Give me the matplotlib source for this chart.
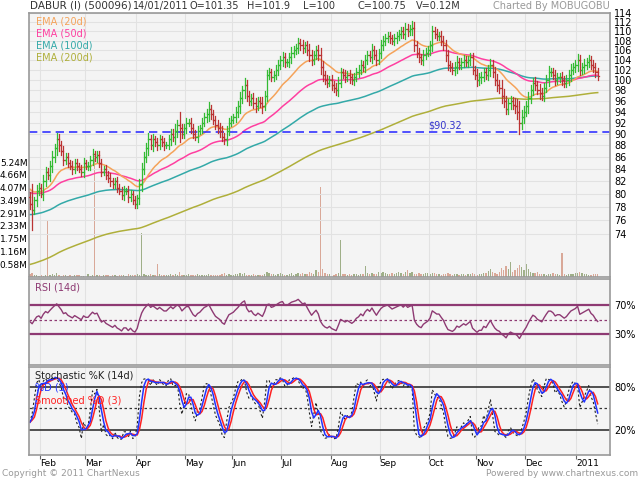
import numpy as np
import pandas as pd
import matplotlib
matplotlib.use("Agg")
import matplotlib.pyplot as plt
from matplotlib.ticker import FixedLocator, NullLocator, NullFormatter

# ---------------- data ----------------
start_date = "2010-01-25"
end_date = "2011-01-14"

closes = [
 78.5, 77.5, 79, 80.5, 81, 80, 82, 83.5, 83, 84.5,
 86, 87.5, 89, 88, 87, 85.5, 86, 85, 84.5, 84,
 85, 84.5, 84, 83.5, 85, 84.5, 84.5, 85.5, 86.5, 86,
 86.3, 85, 83.5, 84, 83, 82.5, 82, 81.5, 82, 81,
 80.5, 79.8, 80.5, 80.5, 79.5, 80, 79, 78.5, 79.3, 81.5,
 84, 86, 87.5, 89, 88, 89, 88.5, 88, 89, 88.5,
 88, 88, 89, 90, 89.5, 90.5, 91.5, 91, 90, 91,
 92, 92, 91, 90, 89.5, 90.5, 91, 92, 93, 93.5,
 94.5, 93.5, 92.5, 91.5, 91, 90.5, 89.5, 89, 90.5, 92,
 92.5, 93, 94, 95, 96.5, 98, 99, 97, 96, 96.5,
 95.5, 95, 96, 95.5, 95, 97, 101, 101.5, 100.5, 101,
 102, 103, 104, 104.5, 103.5, 103.5, 104.5, 105.5, 106, 106.5,
 107.5, 107, 106.5, 107, 106, 105, 104, 105, 106, 105,
 102.5, 101, 100, 99.5, 100, 99, 98.5, 98, 99.5, 101.5,
 101, 100.5, 101, 100.5, 100, 100.5, 101.5, 102, 103, 102.5,
 104, 105, 104.5, 106, 105, 104, 105.5, 107, 108, 108.5,
 109, 108.5, 108, 108.5, 109, 109.5, 110, 109.5, 110.5, 110,
 110.5, 110.8, 107, 105.5, 104.5, 104, 105, 105.5, 106, 107,
 110, 109.5, 109, 109, 108, 107, 105, 103, 102.5, 102,
 102.5, 103.5, 103, 103.5, 104, 103.5, 104, 104.5, 102, 101,
 100, 100.5, 100.5, 101.5, 101, 102, 103, 101.5, 100, 99,
 98.5, 97, 96, 94.5, 95.5, 96, 95.3, 95, 94, 92,
 93, 94, 95, 96.5, 98, 99.5, 99, 98, 97.5, 97,
 98.5, 100, 101.5, 101.5, 101, 100, 100.5, 100.5, 100, 99.5,
 100, 101, 102, 102.5, 103, 104, 102, 102.5, 103, 103.5,
 104, 103, 102.5, 101.5, 100.75,
]
first_open = 79.5

# extra wick length per bar (units of 0.2 rupee)
wicks = [
 8, 30, 6, 9, 7, 5, 10, 8, 6, 9,
 10, 8, 12, 9, 7, 8, 6, 7, 5, 8,
 6, 7, 5, 6, 8, 5, 6, 7, 9, 6,
 8, 7, 6, 5, 7, 6, 8, 5, 6, 7,
 5, 6, 7, 5, 8, 6, 5, 7, 6, 9,
 10, 8, 9, 12, 7, 9, 6, 8, 7, 6,
 8, 5, 7, 9, 8, 12, 10, 25, 7, 8,
 9, 6, 8, 7, 6, 9, 5, 8, 7, 9,
 12, 8, 7, 6, 9, 10, 8, 7, 9, 8,
 7, 6, 9, 10, 12, 9, 14, 10, 8, 7,
 9, 10, 8, 7, 12, 8, 10, 9, 7, 8,
 9, 10, 8, 12, 9, 7, 10, 12, 9, 8,
 10, 9, 11, 8, 9, 12, 10, 8, 9, 10,
 14, 12, 8, 9, 7, 10, 8, 9, 10, 8,
 7, 9, 8, 10, 7, 9, 8, 10, 9, 8,
 10, 9, 8, 12, 9, 10, 8, 11, 9, 10,
 8, 9, 7, 10, 9, 8, 10, 9, 12, 10,
 9, 14, 12, 10, 9, 8, 10, 9, 8, 10,
 12, 10, 9, 8, 10, 9, 12, 10, 8, 9,
 10, 12, 8, 9, 10, 8, 9, 10, 9, 8,
 12, 9, 10, 8, 9, 10, 12, 9, 10, 12,
 10, 14, 12, 10, 9, 10, 8, 12, 14, 20,
 12, 10, 9, 12, 10, 9, 10, 8, 12, 9,
 10, 9, 12, 8, 9, 10, 8, 9, 10, 8,
 9, 10, 12, 9, 10, 12, 10, 9, 11, 9,
 10, 9, 10, 9, 8,
]

# volume (units of 10,000 shares)
volume = [
 12, 20, 8, 10, 6, 9, 5, 7, 255, 10,
 14, 8, 20, 11, 6, 9, 7, 5, 8, 6,
 10, 7, 9, 5, 6, 8, 12, 6, 9, 550,
 10, 7, 6, 9, 8, 11, 6, 7, 9, 5,
 7, 9, 10, 6, 12, 8, 7, 9, 15, 10,
 200, 14, 10, 9, 12, 8, 11, 60, 15, 9,
 7, 10, 8, 12, 9, 14, 11, 22, 10, 8,
 9, 13, 7, 10, 8, 12, 9, 11, 10, 7,
 15, 10, 9, 8, 11, 10, 13, 18, 9, 12,
 10, 8, 15, 12, 18, 14, 20, 11, 9, 10,
 12, 9, 8, 11, 10, 12, 25, 18, 14, 12,
 10, 15, 20, 12, 11, 9, 14, 16, 10, 12,
 18, 14, 20, 12, 15, 22, 18, 14, 30, 25,
 410, 35, 20, 15, 12, 14, 10, 12, 20, 170,
 15, 12, 10, 14, 9, 12, 15, 10, 14, 12,
 50, 18, 15, 20, 12, 14, 22, 18, 25, 16,
 14, 12, 20, 15, 18, 22, 16, 14, 25, 30,
 18, 22, 15, 12, 20, 14, 12, 16, 18, 14,
 20, 16, 12, 14, 10, 12, 15, 18, 12, 10,
 14, 12, 10, 12, 15, 10, 12, 14, 18, 12,
 10, 14, 12, 16, 20, 28, 35, 22, 18, 15,
 25, 40, 30, 50, 35, 70, 25, 30, 40, 55,
 45, 30, 60, 38, 25, 20, 18, 22, 15, 12,
 14, 10, 15, 12, 18, 14, 12, 10, 110, 12,
 10, 14, 12, 15, 20, 18, 25, 16, 12, 14,
 10, 9, 12, 14, 12,
]

ema_seed = {20: 81.0, 50: 80.3, 100: 76.8, 200: 69.6}
support = 90.32
price_ticks = list(range(74, 115, 2))
vol_ticks = [0.58, 1.16, 1.75, 2.33, 2.91, 3.49, 4.07, 4.66, 5.24]
header = ["DABUR (I) (500096)", "14/01/2011", "O=101.35", "H=101.9",
          "L=100", "C=100.75", "V=0.12M"]

# ---------------- derived ----------------
dates = pd.bdate_range(start_date, end_date)
n = len(closes)
dates = dates[:n]
c = np.array(closes, float)
o = np.concatenate([[first_open], c[:-1]])
w = np.array(wicks, float) / 5.0
hi = np.maximum(o, c) + w / 2
lo = np.minimum(o, c) - w / 2
vol = np.array(volume, float) / 100.0  # millions
x = np.arange(n)

def ema(vals, span, seed):
    a = 2.0 / (span + 1)
    out = np.empty_like(vals)
    prev = seed
    for i, v in enumerate(vals):
        prev = a * v + (1 - a) * prev
        out[i] = prev
    return out

# RSI 14 (Wilder)
d = np.diff(np.concatenate([[first_open], c]))
up = np.where(d > 0, d, 0.0)
dn = np.where(d < 0, -d, 0.0)
au, ad = 0.6, 0.6
rsi = np.empty(n)
for i in range(n):
    au = (au * 13 + up[i]) / 14
    ad = (ad * 13 + dn[i]) / 14
    rsi[i] = 100 - 100 / (1 + au / ad) if ad > 0 else 100
# Stochastic
k = np.empty(n)
for i in range(n):
    s = max(0, i - 13)
    hh, ll = hi[s:i + 1].max(), lo[s:i + 1].min()
    k[i] = 100 * (c[i] - ll) / (hh - ll) if hh > ll else 50
kd = pd.Series(k).rolling(3, min_periods=1).mean().values
sd = pd.Series(kd).rolling(3, min_periods=1).mean().values

# ---------------- figure ----------------
W, H = 640, 480
fig = plt.figure(figsize=(6.4, 4.8), dpi=100)
fig.patch.set_facecolor("white")
L, R = 28.8 / W, 610 / W
def ax_at(top, bot):
    return fig.add_axes([L, 1 - bot / H, R - L, (bot - top) / H])

ax = ax_at(13, 277)
ar = ax_at(279, 365)
ast = ax_at(367, 455)
bg = "#F4F4F4"
gridc = "#E2E2E2"
xlim = (-0.5, 259.5)

month_idx, month_lab = [], []
for i in range(1, n):
    if dates[i].month != dates[i - 1].month:
        month_idx.append(i - 0.5)
        month_lab.append("2011" if dates[i].year == 2011 else dates[i].strftime("%b"))

for a in (ax, ar, ast):
    a.set_facecolor(bg)
    a.set_xlim(*xlim)
    for sp in a.spines.values():
        sp.set_color("#999999")
        sp.set_linewidth(1.2)
    for m in month_idx:
        a.axvline(m, color=gridc, lw=0.8, zorder=0)
    a.tick_params(left=False, right=False, bottom=False, top=False,
                  labelleft=False, labelbottom=False)

# volume on twin axis
av = ax.twinx()
av.set_ylim(0, 12.03)
av.set_xlim(*xlim)
vcol = np.where(c >= o, "#9FAF88", "#D9A898")
av.bar(x, vol, width=0.6, color=vcol, zorder=1)
av.yaxis.set_ticks_position("left")
av.set_yticks(vol_ticks)
av.set_yticklabels([f"{v:.2f}M" for v in vol_ticks], fontsize=6.5)
av.tick_params(axis="y", length=0, pad=1)
for sp in av.spines.values():
    sp.set_visible(False)
av.set_zorder(0)
ax.set_zorder(1)
ax.patch.set_visible(False)
av.patch.set_visible(True)
av.patch.set_facecolor(bg)

ax.set_yscale("log")
ax.set_ylim(68, 114)
ax.yaxis.set_minor_locator(NullLocator())
ax.yaxis.set_minor_formatter(NullFormatter())
ax.yaxis.set_major_locator(FixedLocator(price_ticks))
ax.set_yticklabels([str(t) for t in price_ticks], fontsize=7)
ax.tick_params(axis="y", right=False, labelright=True, labelleft=False, length=0, pad=3)
for t in price_ticks:
    ax.axhline(t, color=gridc, lw=0.8, zorder=0)

cols = {20: "#F5A35A", 50: "#FF3FA0", 100: "#33A9A8", 200: "#AFAF3A"}
for span in (200, 100, 50, 20):
    ax.plot(x, ema(c, span, ema_seed[span]), color=cols[span], lw=1.1, zorder=2)

up_c, dn_c = "#33BB33", "#BB3333"
for i in range(n):
    col = up_c if c[i] >= o[i] else dn_c
    ax.plot([x[i], x[i]], [lo[i], hi[i]], color=col, lw=0.9, zorder=3)
    ax.plot([x[i] - 0.5, x[i]], [o[i], o[i]], color=col, lw=0.9, zorder=3)
    ax.plot([x[i], x[i] + 0.5], [c[i], c[i]], color=col, lw=0.9, zorder=3)

ax.axhline(support, color="#3333FF", lw=1.2, ls=(0, (5, 3)), zorder=2)
ax.text(178, support + 0.2, f"${support}", color="#3333CC", fontsize=7, va="bottom")
for j, span in enumerate((20, 50, 100, 200)):
    ax.text(0.012, 0.985 - j * 0.045, f"EMA ({span}d)", transform=ax.transAxes,
            color=cols[span], fontsize=7, va="top")

# RSI
rc = "#8E3A73"
ar.set_ylim(-12.8, 105.9)
ar.axhline(70, color=rc, lw=1.6)
ar.axhline(30, color=rc, lw=1.6)
ar.axhline(50, color=rc, lw=0.9, ls=(0, (2, 2)))
ar.plot(x, rsi, color=rc, lw=1.0)
ar.text(0.01, 0.96, "RSI (14d)", transform=ar.transAxes, color=rc, fontsize=7, va="top")
ar.set_yticks([70, 30])
ar.set_yticklabels(["70%", "30%"], fontsize=7)
ar.tick_params(axis="y", labelright=True, labelleft=False, length=0, pad=3)

# Stochastic
ast.set_ylim(-14.9, 107.9)
ast.axhline(80, color="#333333", lw=1.2)
ast.axhline(20, color="#333333", lw=1.2)
ast.axhline(50, color="#333333", lw=0.9, ls=(0, (2, 2)))
ast.plot(x, k, color="#222222", lw=0.8, ls=(0, (2, 2)))
ast.plot(x, sd, color="#FF2222", lw=1.1)
ast.plot(x, kd, color="#2233FF", lw=1.1)
ast.text(0.01, 0.96, "Stochastic %K (14d)", transform=ast.transAxes, color="#222222", fontsize=7, va="top")
ast.text(0.01, 0.82, "%D (3)", transform=ast.transAxes, color="#2233FF", fontsize=7, va="top")
ast.text(0.01, 0.68, "Smoothed %D (3)", transform=ast.transAxes, color="#FF2222", fontsize=7, va="top")
ast.set_yticks([80, 20])
ast.set_yticklabels(["80%", "20%"], fontsize=7)
ast.tick_params(axis="y", labelright=True, labelleft=False, length=0, pad=3)

ast.set_xticks(month_idx)
ast.set_xticklabels(month_lab, fontsize=6.5, ha="left")
ast.tick_params(axis="x", bottom=True, labelbottom=True, length=3, direction="out",
                color="#666666", pad=0)

# header / footer
hx = [30, 133, 190, 247, 303, 358, 416]
for t, xx in zip(header, hx):
    fig.text(xx / W, 1 - 6 / H, t, fontsize=7.5 if xx == 30 else 7, color="#333333", va="center")
fig.text(610 / W, 1 - 6 / H, "Charted By MOBUGOBU", fontsize=7, color="#999999", va="center", ha="right")
fig.text(2 / W, 1 - 474 / H, "Copyright © 2011 ChartNexus", fontsize=6.5, color="#999999", va="center")
fig.text(638 / W, 1 - 474 / H, "Powered by www.chartnexus.com", fontsize=6.5, color="#999999", va="center", ha="right")

fig.savefig("out.png", dpi=100)
